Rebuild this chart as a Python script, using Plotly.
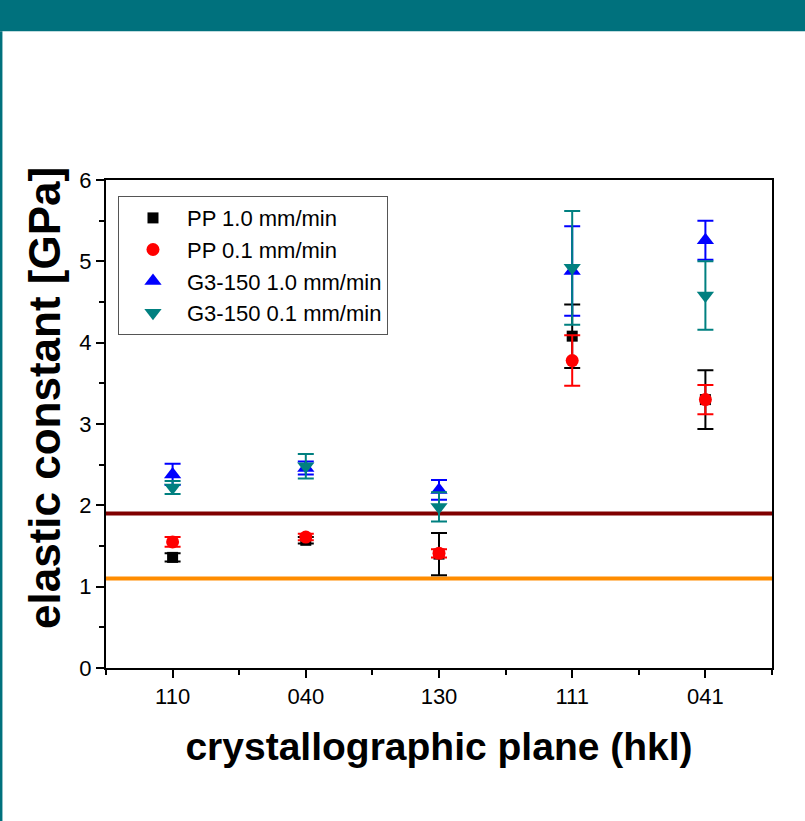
import plotly.graph_objects as go

planes = ["110", "040", "130", "111", "041"]
xpos = [0, 1, 2, 3, 4]

pp10 = [1.36, 1.57, 1.40, 4.08, 3.30]
pp10_err = [0.05, 0.04, 0.26, 0.39, 0.36]
pp01 = [1.55, 1.61, 1.41, 3.78, 3.30]
pp01_err = [0.06, 0.04, 0.05, 0.31, 0.18]
g10 = [2.38, 2.46, 2.19, 4.88, 5.26]
g10_err = [0.13, 0.08, 0.12, 0.55, 0.24]
g01 = [2.22, 2.48, 1.98, 4.92, 4.58]
g01_err = [0.08, 0.15, 0.18, 0.70, 0.42]

line_dark = 1.90
line_orange = 1.10

series = [
    ("PP 1.0 mm/min", pp10, pp10_err, "#000000", "square", 11),
    ("PP 0.1 mm/min", pp01, pp01_err, "#FF0000", "circle", 13),
    ("G3-150 1.0 mm/min", g10, g10_err, "#0000FF", "triangle-up", 15),
    ("G3-150 0.1 mm/min", g01, g01_err, "#008080", "triangle-down", 15),
]

fig = go.Figure()

for name, vals, errs, color, sym, size in series:
    fig.add_trace(go.Scatter(
        x=xpos, y=vals, mode="markers", name=name,
        marker=dict(symbol=sym, size=size, color=color),
        error_y=dict(type="data", array=errs, visible=True, color=color, thickness=2, width=8),
        cliponaxis=False,
    ))

axis_font = dict(family="Liberation Sans Narrow, Arial Narrow, Liberation Sans, Arial", size=22, color="#000")

fig.update_layout(
    width=805, height=821,
    margin=dict(l=106, r=33, t=180, b=153),
    paper_bgcolor="white", plot_bgcolor="white",
    showlegend=True,
    legend=dict(
        x=0.018, y=0.967, xanchor="left", yanchor="top",
        bgcolor="white", bordercolor="#555", borderwidth=1,
        font=dict(family="Liberation Sans, Arial", size=22, color="#000"),
        itemwidth=58,
    ),
    xaxis=dict(
        range=[-0.5, 4.5], tickvals=xpos, ticktext=planes,
        showgrid=False, zeroline=False,
        showline=True, linecolor="#000", linewidth=2, mirror=True,
        ticks="outside", ticklen=8, tickwidth=1.5, tickcolor="#000",
        minor=dict(tickvals=[-0.5, 0.5, 1.5, 2.5, 3.5, 4.5], ticks="outside", ticklen=5, tickcolor="#000", tickwidth=1.5),
        tickfont=axis_font,
        title=dict(text="crystallographic plane (hkl)", standoff=24,
                   font=dict(family="Liberation Sans, Arial", size=39, color="#000", weight="bold")),
    ),
    yaxis=dict(
        range=[0, 6], tickvals=[0, 1, 2, 3, 4, 5, 6],
        showgrid=False, zeroline=False,
        showline=True, linecolor="#000", linewidth=2, mirror=True,
        ticks="outside", ticklen=8, tickwidth=1.5, tickcolor="#000",
        minor=dict(tickvals=[0.5, 1.5, 2.5, 3.5, 4.5, 5.5], ticks="outside", ticklen=5, tickcolor="#000", tickwidth=1.5),
        tickfont=axis_font,
    ),
    annotations=[
        dict(text="<b>elastic constant [GPa]</b>", textangle=-90,
             xref="paper", yref="paper", x=(44 - 106) / 666, y=(668 - 398) / 488,
             xanchor="center", yanchor="middle", showarrow=False,
             font=dict(family="Liberation Sans, Arial", size=44, color="#000")),
    ],
    shapes=[
        dict(type="rect", xref="paper", yref="paper", x0=-0.16, x1=1.06, y0=1.305, y1=1.37,
             fillcolor="#00717D", line=dict(width=0), layer="above"),
        dict(type="rect", xref="paper", yref="paper", x0=-0.16, x1=-0.1555, y0=-0.32, y1=1.305,
             fillcolor="#00717D", line=dict(width=0), layer="above"),
    ],
)

fig.add_hline(y=line_dark, line=dict(color="#800000", width=4), layer="below")
fig.add_hline(y=line_orange, line=dict(color="#FF8C00", width=4), layer="below")

fig.write_html("out.html", config={"displayModeBar": False},
               post_script="document.body.style.margin='0';")
